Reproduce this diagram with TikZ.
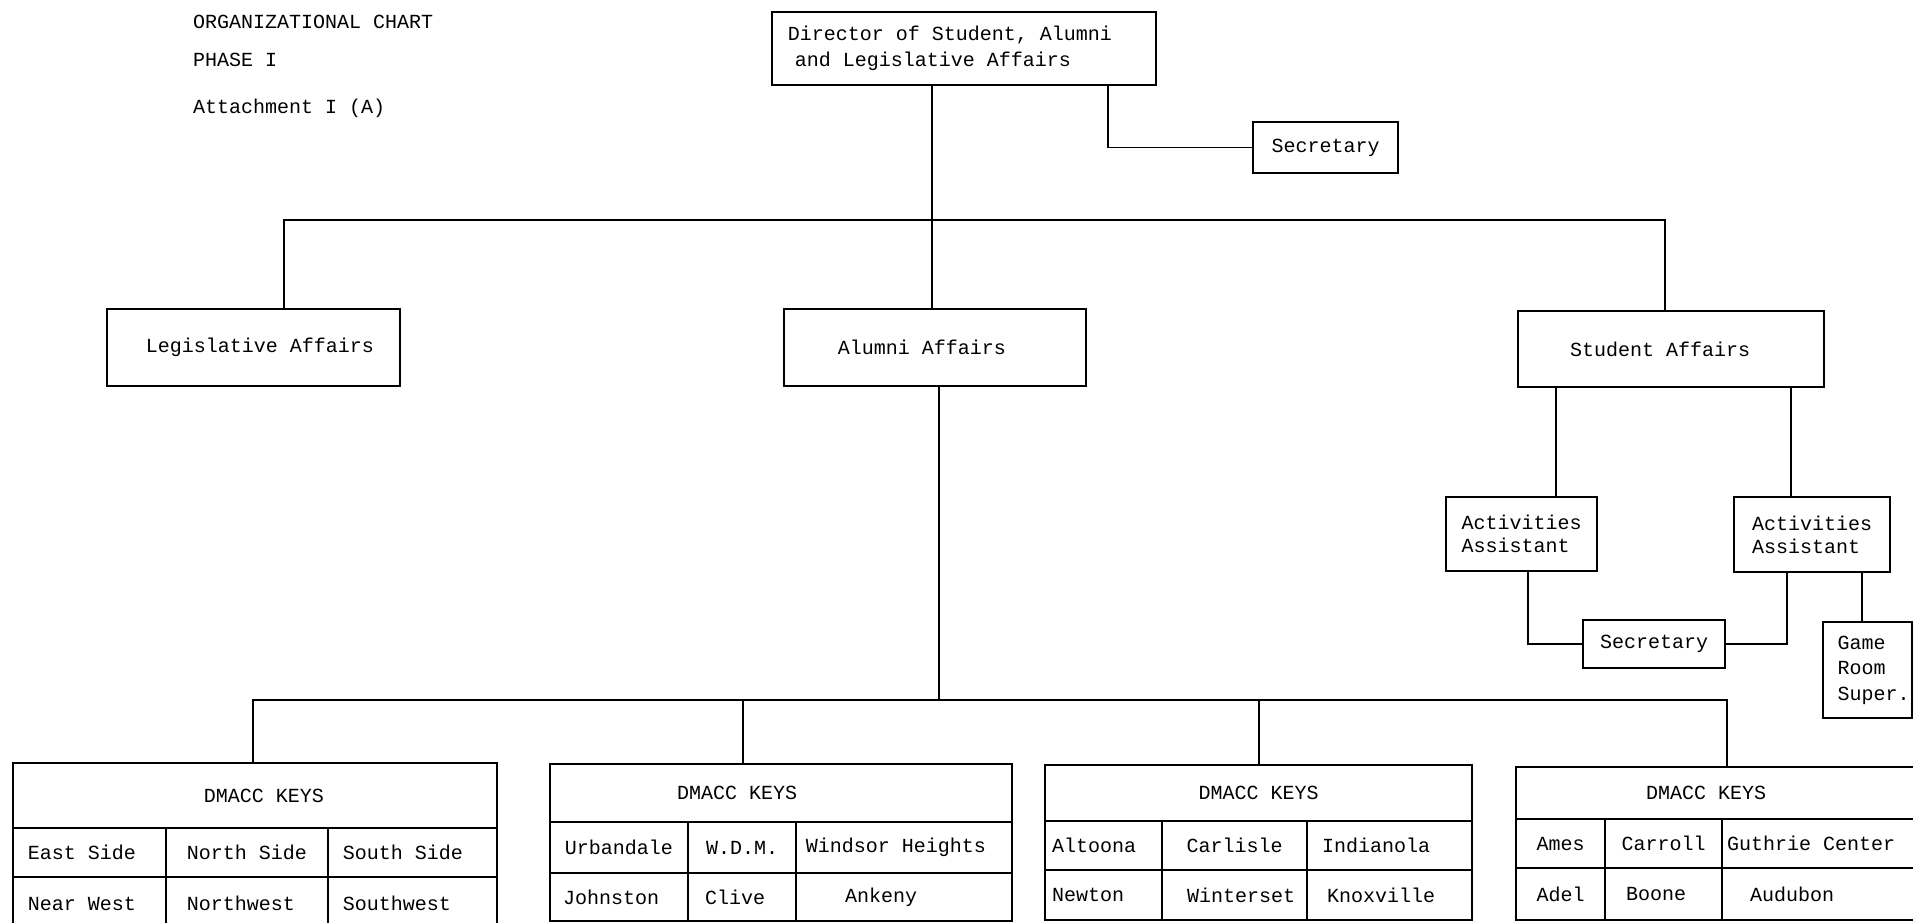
\documentclass[tikz,border=0pt]{standalone}
\usepackage{fontspec}
\newfontfamily\tw{Liberation Mono}
\begin{document}
\begin{tikzpicture}[x=1pt,y=-1pt,
  every node/.style={font=\tw\fontsize{20}{25}\selectfont},
  box/.style={draw, line width=2pt, inner sep=0pt, align=center},
  cell/.style={draw, line width=1.8pt, inner sep=0pt},
  conn/.style={line width=1.8pt},
  title/.style={anchor=base west, inner sep=0pt}]
\useasboundingbox (0,0) rectangle (1913,922);
\clip (0,0) rectangle (1913,922);

% titles
\node[title] (t1) at (193,28) {ORGANIZATIONAL CHART};
\node[title] (t2) at (193,66) {PHASE I};
\node[title] (t3) at (193,113) {Attachment I (A)};

% top level
\node[box, minimum width=384pt, minimum height=73pt, align=left, font=\tw\fontsize{20}{26}\selectfont] (dir) at (964,48.5)
  {Director of Student, Alumni\hspace*{28pt}\\\hspace*{7pt}and Legislative Affairs};
\node[box, minimum width=145pt, minimum height=51pt] (sec1) at (1325.5,147.5) {Secretary};

\node[box, minimum width=293pt, minimum height=77pt] (leg) at (253.5,347.5) {\hspace*{13pt}Legislative Affairs};
\node[box, minimum width=302pt, minimum height=77pt] (alu) at (935,347.5) {Alumni Affairs\hspace*{26pt}};
\node[box, minimum width=306pt, minimum height=76pt] (stu) at (1671,349) {Student Affairs\hspace*{22pt}};

\node[box, minimum width=151pt, minimum height=74pt, align=left, font=\tw\fontsize{20}{23}\selectfont] (aa1) at (1521.5,534) {Activities\\Assistant};
\node[box, minimum width=156pt, minimum height=75pt, align=left, font=\tw\fontsize{20}{23}\selectfont] (aa2) at (1812,534.5) {Activities\\Assistant};
\node[box, minimum width=142pt, minimum height=48pt] (sec2) at (1654,644) {Secretary};
\node[box, minimum width=89pt, minimum height=96pt, align=left, font=\tw\fontsize{20}{25.5}\selectfont] (game) at (1867.5,670) {\hspace*{12pt}Game\\\hspace*{12pt}Room\\\hspace*{12pt}Super.};

% table 1
\node[cell, minimum width=484pt, minimum height=65pt] (h1) at (255,795.5) {\hspace*{18pt}DMACC KEYS};
\node[cell, minimum width=153pt, minimum height=49pt] (a11) at (89.5,852.5) {East Side\hspace*{15pt}};
\node[cell, minimum width=162pt, minimum height=49pt] (a12) at (247,852.5) {North Side};
\node[cell, minimum width=169pt, minimum height=49pt] (a13) at (412.5,852.5) {South Side\hspace*{19pt}};
\node[cell, minimum width=153pt, minimum height=53pt] (a21) at (89.5,903.5) {Near West\hspace*{15pt}};
\node[cell, minimum width=162pt, minimum height=53pt] (a22) at (247,903.5) {Northwest\hspace*{12pt}};
\node[cell, minimum width=169pt, minimum height=53pt] (a23) at (412.5,903.5) {Southwest\hspace*{31pt}};

% table 2
\node[cell, minimum width=462pt, minimum height=58pt] (h2) at (781,793) {DMACC KEYS\hspace*{88pt}};
\node[cell, minimum width=138pt, minimum height=51pt] (b11) at (619,847.5) {Urbandale};
\node[cell, minimum width=108pt, minimum height=51pt] (b12) at (742,847.5) {W.D.M.};
\node[cell, minimum width=216pt, minimum height=51pt] (b13) at (904,847.5) {Windsor Heights\hspace*{16pt}};
\node[cell, minimum width=138pt, minimum height=48pt] (b21) at (619,897) {Johnston\hspace*{16pt}};
\node[cell, minimum width=108pt, minimum height=48pt] (b22) at (742,897) {Clive\hspace*{14pt}};
\node[cell, minimum width=216pt, minimum height=48pt] (b23) at (904,897) {Ankeny\hspace*{46pt}};

% table 3
\node[cell, minimum width=427pt, minimum height=56pt] (h3) at (1258.5,793) {DMACC KEYS};
\node[cell, minimum width=117pt, minimum height=49pt] (c11) at (1103.5,845.5) {Altoona\hspace*{19pt}};
\node[cell, minimum width=145pt, minimum height=49pt] (c12) at (1234.5,845.5) {Carlisle};
\node[cell, minimum width=165pt, minimum height=49pt] (c13) at (1389.5,845.5) {Indianola\hspace*{27pt}};
\node[cell, minimum width=117pt, minimum height=50pt] (c21) at (1103.5,895) {Newton\hspace*{31pt}};
\node[cell, minimum width=145pt, minimum height=50pt] (c22) at (1234.5,895) {\hspace*{13pt}Winterset};
\node[cell, minimum width=165pt, minimum height=50pt] (c23) at (1389.5,895) {Knoxville\hspace*{17pt}};

% table 4
\node[cell, minimum width=414pt, minimum height=52pt] (h4) at (1723,793) {DMACC KEYS\hspace*{34pt}};
\node[cell, minimum width=89pt, minimum height=49pt] (d11) at (1560.5,843.5) {Ames};
\node[cell, minimum width=117pt, minimum height=49pt] (d12) at (1663.5,843.5) {Carroll};
\node[cell, minimum width=208pt, minimum height=49pt] (d13) at (1826,843.5) {Guthrie Center\hspace*{30pt}};
\node[cell, minimum width=89pt, minimum height=52pt] (d21) at (1560.5,894) {Adel};
\node[cell, minimum width=117pt, minimum height=52pt] (d22) at (1663.5,894) {Boone\hspace*{15pt}};
\node[cell, minimum width=208pt, minimum height=52pt] (d23) at (1826,894) {Audubon\hspace*{68pt}};

% connector coordinates
\coordinate (busL) at (284,220);
\coordinate (busM) at (932,220);
\coordinate (busR) at (1665,220);
\coordinate (secx) at (1108,0);
\coordinate (sa1) at (1556,0);
\coordinate (sa2) at (1791,0);
\coordinate (ax1) at (1528,0);
\coordinate (ax2) at (1787,0);
\coordinate (gx) at (1862,0);
\coordinate (bM) at (939,700);
\coordinate (bL) at (253,700);
\coordinate (bR) at (1727,700);
\coordinate (k2) at (743,0);
\coordinate (k3) at (1259,0);

% connectors
\draw[conn] (dir.south -| busM) -- (alu.north -| busM);
\draw[conn] (leg.north -| busL) -- (busL) -- (busR) -- (stu.north -| busR);
\draw[conn] (dir.south -| secx) |- (sec1.west);
\draw[conn] (stu.south -| sa1) -- (aa1.north -| sa1);
\draw[conn] (stu.south -| sa2) -- (aa2.north -| sa2);
\draw[conn] (aa1.south -| ax1) |- (sec2.west);
\draw[conn] (aa2.south -| ax2) |- (sec2.east);
\draw[conn] (aa2.south -| gx) -- (game.north -| gx);
\draw[conn] (alu.south -| bM) -- (bM);
\draw[conn] (h1.north -| bL) -- (bL) -- (bR) -- (h4.north -| bR);
\draw[conn] (bL -| k2) -- (h2.north -| k2);
\draw[conn] (bL -| k3) -- (h3.north -| k3);
\end{tikzpicture}
\end{document}
